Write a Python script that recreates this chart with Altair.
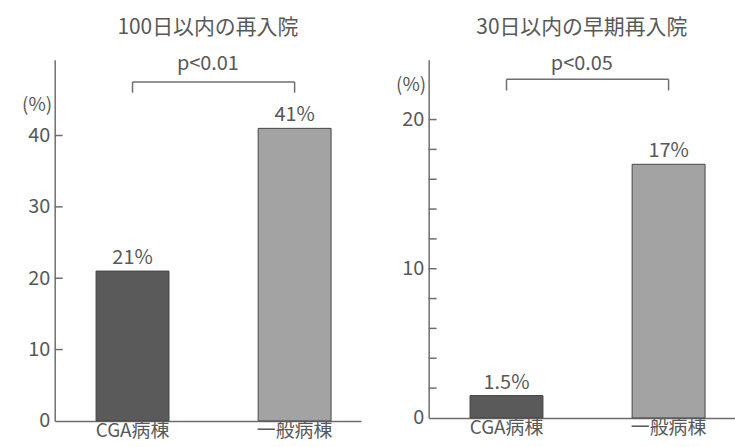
import altair as alt
import pandas as pd

# Ward categories shared by both panels
wards = ["CGA病棟", "一般病棟"]

# Readmission within 100 days (%)
title_100 = "100日以内の再入院"
rate_100 = [21, 41]
p_100 = "p<0.01"
labels_100 = [0, 10, 20, 30, 40]
ticks_100 = [10, 20, 30, 40]

# Early readmission within 30 days (%)
title_30 = "30日以内の早期再入院"
rate_30 = [1.5, 17]
p_30 = "p<0.05"
labels_30 = [0, 10, 20]
ticks_30 = [2, 4, 6, 8, 10, 12, 14, 16, 18, 20]

FONT = "Noto Sans CJK JP"
INK = "#585858"
LINE = "#6e6e6e"


def panel(title, p_text, rates, fills, y_max, height, labels, ticks,
          bracket_y, leg, pct_y):
    bars_df = pd.DataFrame({
        "ward": wards,
        "rate": rates,
        "label": [f"{r:g}%" for r in rates],
    })
    x_scale = alt.Scale(domain=wards, paddingInner=0.55, paddingOuter=0.22, align=0.58)
    y_scale = alt.Scale(domain=[0, y_max], nice=False)
    x_axis = alt.Axis(
        title=None, labelAngle=0, ticks=False, labelFont=FONT, labelFontSize=19,
        labelColor=INK, labelPadding=1, domainColor=LINE, domainWidth=1.5,
    )
    y_axis = alt.Axis(
        title="(%)", values=labels, ticks=False, grid=False, labelFont=FONT,
        labelFontSize=20, labelColor=INK, labelPadding=5, domainColor=LINE,
        domainWidth=1.5, titleFont=FONT, titleFontSize=19, titleFontWeight="normal",
        titleColor=INK, titleAngle=0, titleAlign="right", titleBaseline="middle",
        titleX=-3, titleY=pct_y,
    )
    base = alt.Chart(bars_df)
    bars = base.mark_bar(stroke="#474747", strokeWidth=1).encode(
        x=alt.X("ward:N", scale=x_scale, axis=x_axis),
        y=alt.Y("rate:Q", scale=y_scale, axis=y_axis),
        color=alt.Color("ward:N", scale=alt.Scale(domain=wards, range=fills), legend=None),
    )
    values = base.mark_text(baseline="bottom", dy=-3, font=FONT, fontSize=20, color=INK).encode(
        x="ward:N", y="rate:Q", text="label:N"
    )
    # inward-facing tick marks on the y axis
    tick_marks = alt.Chart(pd.DataFrame({"tick": ticks})).mark_rule(
        color=LINE, strokeWidth=1.5
    ).encode(y="tick:Q", x=alt.value(0), x2=alt.value(8))
    # significance bracket between the two bars
    bracket_top = alt.Chart(pd.DataFrame({
        "a": [wards[0]], "b": [wards[1]], "y": [bracket_y]
    })).mark_rule(color=LINE, strokeWidth=1.5).encode(x="a:N", x2="b:N", y="y:Q")
    bracket_legs = alt.Chart(pd.DataFrame({
        "ward": wards, "y": [bracket_y] * 2, "y2": [bracket_y - leg] * 2
    })).mark_rule(color=LINE, strokeWidth=1.5).encode(x="ward:N", y="y:Q", y2="y2:Q")
    return alt.layer(bars, values, tick_marks, bracket_top, bracket_legs).properties(
        width=308,
        height=height,
        title=alt.TitleParams(
            text=title, subtitle=p_text, font=FONT, fontSize=21, fontWeight="normal",
            color=INK, subtitleFont=FONT, subtitleFontSize=20, subtitleColor=INK,
            subtitlePadding=16, anchor="middle", offset=-14,
        ),
    )


left = panel(title_100, p_100, rate_100, ["#5a5a5a", "#a3a3a3"], 50.6, 363,
             labels_100, ticks_100, 47.5, 1.5, 45)
right = panel(title_30, p_30, rate_30, ["#6a6a6a", "#8f8f8f"], 24.0, 360,
              labels_30, ticks_30, 22.7, 0.75, 25)

chart = alt.hconcat(left, right, spacing=68, bounds="flush").properties(
    padding={"left": 21, "top": 16, "right": 0, "bottom": 0},
    background="white",
).configure_view(stroke=None)

chart.save("out.html", embed_options={"renderer": "svg", "actions": False})
